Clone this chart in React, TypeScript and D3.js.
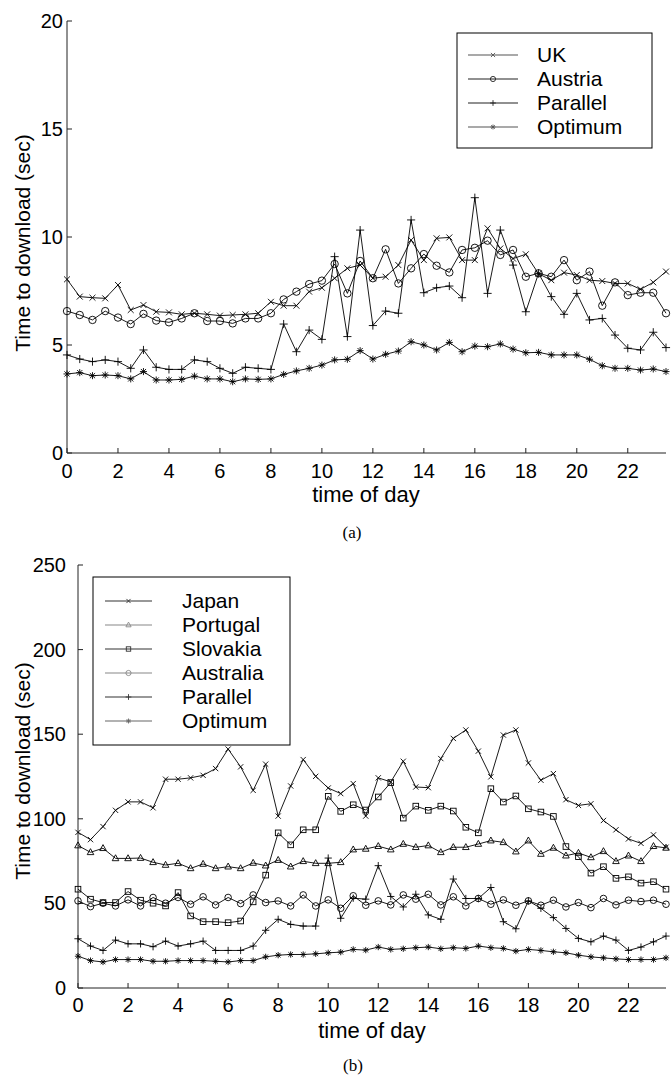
import React from "react";
import * as d3 from "d3";

// ---------- data ----------
const hours = [0,0.5,1,1.5,2,2.5,3,3.5,4,4.5,5,5.5,6,6.5,7,7.5,8,8.5,9,9.5,10,10.5,11,11.5,12,12.5,13,13.5,14,14.5,15,15.5,16,16.5,17,17.5,18,18.5,19,19.5,20,20.5,21,21.5,22,22.5,23,23.5];
const xTicks = [0,2,4,6,8,10,12,14,16,18,20,22];

// panel (a)
const ukA = [8.04,7.24,7.19,7.16,7.78,6.62,6.85,6.54,6.51,6.42,6.47,6.42,6.36,6.39,6.42,6.47,7.0,6.82,6.82,7.47,7.65,8.09,8.55,8.7,8.09,8.16,8.7,9.86,8.93,9.94,9.98,8.93,8.93,10.4,9.47,9.0,9.2,8.3,8.0,8.35,8.24,8.0,7.96,7.85,7.85,7.58,7.9,8.4];
const austriaA = [6.57,6.39,6.16,6.57,6.27,5.97,6.44,6.13,6.05,6.23,6.47,6.11,6.11,6.0,6.23,6.23,6.47,7.11,7.47,7.82,7.98,8.75,7.39,8.89,8.09,9.43,7.85,8.55,9.21,8.67,8.36,9.4,9.5,9.83,9.17,9.4,8.16,8.32,8.16,8.93,8.0,8.4,6.82,7.9,7.31,7.42,7.42,6.47];
const parallelA = [4.54,4.35,4.23,4.31,4.23,3.92,4.77,3.97,3.87,3.87,4.31,4.23,3.92,3.69,3.97,3.92,3.87,5.97,4.69,5.69,5.26,9.09,5.39,10.32,5.9,6.57,6.47,10.79,7.42,7.65,7.73,7.19,11.82,7.39,10.32,8.7,6.54,8.32,7.24,6.42,7.39,6.16,6.23,5.46,4.85,4.77,5.59,4.88];
const optimumA = [3.66,3.72,3.58,3.61,3.58,3.43,3.77,3.38,3.38,3.41,3.56,3.43,3.43,3.3,3.43,3.41,3.43,3.64,3.8,3.92,4.07,4.31,4.34,4.74,4.35,4.57,4.72,5.15,5.0,4.77,5.12,4.69,4.95,4.92,5.05,4.81,4.64,4.66,4.54,4.54,4.54,4.34,4.04,3.92,3.92,3.84,3.89,3.77];
const yTicksA = [0,5,10,15,20];

// panel (b)
const japanB = [92,87.7,95.4,105,110,110,106.5,123.4,123.4,124.2,125.7,129.7,141.2,130.7,116.8,132.3,101.6,119.4,135,125.1,118.2,114.9,120.8,101.6,124.2,121.8,134,118.8,118.4,135.6,147.5,152.5,140,124.8,149.5,152.5,133,122.8,126.7,111.3,107.9,108.9,99,93.5,88.1,85.5,90.5,83.2];
const portugalB = [84.2,80.2,82.6,76.6,76.6,76.8,74.3,72.7,73.7,70.7,73.3,70.7,71.7,70.7,73.9,72.3,75.6,71.7,74.9,73.7,73.7,74.3,81.8,82.2,83.8,81.8,85.1,83.2,84.2,80.2,83.2,83.2,85.1,87.1,86.1,80.6,87.1,79.2,82.8,78.2,79.8,77.2,80.8,74.9,78.2,74.9,83.8,82.8];
const slovakiaB = [58.4,52.5,50.5,50.5,57,51.9,50.1,48.5,56.4,42.6,39.2,39.2,38.6,39.6,50.9,66.7,91.7,84.6,93.5,93.5,113.3,104.4,108.3,105.2,112.9,121.4,100.4,107.5,105,107.5,104.6,95,91.7,117.8,109.9,113.5,105.9,104,101.4,83.6,77.6,67.9,71.7,64.8,65.7,62,62.8,58.4];
const australiaB = [51.5,48.1,50.1,48.5,52.1,48.5,53.5,50.1,53.5,49.5,53.9,49.1,53.5,49.9,55,50.5,51.5,48.5,55,48.5,52.1,47.1,54.5,48.9,51.5,49.1,55,52.5,55.4,49.1,53.9,48.5,52.9,49.5,52.1,48.9,51.5,48.9,51.9,47.9,50.5,47.5,52.9,49.1,51.9,51.1,51.9,49.5];
const parallelB = [29.1,24.8,22.2,28.3,26.1,26.1,24.4,27.7,24.8,26.1,27.7,22.2,22.2,22.2,24.8,34.1,40.6,37.6,36.6,36.6,76.8,41.2,53.1,52.5,72.3,54.1,47.9,55.4,43.2,40.6,64.4,52.9,52.9,59.4,39.2,35,51.5,47.1,41.6,35.2,29.3,27.3,30.7,28.3,22.2,24.2,27.3,30.7];
const optimumB = [18.8,16.2,15.4,16.8,16.8,16.8,15.8,15.8,16.2,16.2,16.2,15.8,15.4,16.2,16.2,18.4,19.4,19.8,19.8,20.2,20.8,21.2,22.8,22.4,24.2,22.8,23.2,23.8,24.2,23.2,23.8,23.4,24.8,23.8,23.4,21.8,22.8,22.2,21.4,20.8,19.4,18.4,17.8,17.2,16.8,16.8,16.8,17.8];
const yTicksB = [0,50,100,150,200,250];

type Marker = "x" | "o" | "+" | "*" | "s" | "^";
type Series = { name: string; values: number[]; marker: Marker; legendColor: string };

const seriesA: Series[] = [
  { name: "UK", values: ukA, marker: "x", legendColor: "#555" },
  { name: "Austria", values: austriaA, marker: "o", legendColor: "#222" },
  { name: "Parallel", values: parallelA, marker: "+", legendColor: "#222" },
  { name: "Optimum", values: optimumA, marker: "*", legendColor: "#555" },
];
const seriesB: Series[] = [
  { name: "Japan", values: japanB, marker: "x", legendColor: "#333" },
  { name: "Portugal", values: portugalB, marker: "^", legendColor: "#888" },
  { name: "Slovakia", values: slovakiaB, marker: "s", legendColor: "#333" },
  { name: "Australia", values: australiaB, marker: "o", legendColor: "#888" },
  { name: "Parallel", values: parallelB, marker: "+", legendColor: "#333" },
  { name: "Optimum", values: optimumB, marker: "*", legendColor: "#666" },
];

const SANS = "'Liberation Sans', Arial, Helvetica, sans-serif";
const SERIF = "'Liberation Serif', 'Times New Roman', serif";

function MarkerGlyph({ m, x, y, s, color = "#000" }: { m: Marker; x: number; y: number; s: number; color?: string }) {
  const sw = 0.9;
  switch (m) {
    case "x":
      return (
        <path d={`M${x - s * 0.8},${y - s * 0.8}L${x + s * 0.8},${y + s * 0.8}M${x - s * 0.8},${y + s * 0.8}L${x + s * 0.8},${y - s * 0.8}`} stroke={color} strokeWidth={sw} fill="none" />
      );
    case "o":
      return <circle cx={x} cy={y} r={s} stroke={color} strokeWidth={sw} fill="none" />;
    case "+":
      return <path d={`M${x - s * 1.1},${y}L${x + s * 1.1},${y}M${x},${y - s * 1.1}L${x},${y + s * 1.1}`} stroke={color} strokeWidth={sw} fill="none" />;
    case "*": {
      const a = s * 0.95, b = s * 0.7;
      return (
        <path d={`M${x - a},${y}L${x + a},${y}M${x},${y - a}L${x},${y + a}M${x - b},${y - b}L${x + b},${y + b}M${x - b},${y + b}L${x + b},${y - b}`} stroke={color} strokeWidth={sw} fill="none" />
      );
    }
    case "s":
      return <rect x={x - s * 0.85} y={y - s * 0.85} width={s * 1.7} height={s * 1.7} stroke={color} strokeWidth={sw} fill="none" />;
    case "^":
      return <path d={`M${x},${y - s * 1.1}L${x + s},${y + s * 0.7}L${x - s},${y + s * 0.7}Z`} stroke={color} strokeWidth={sw} fill="none" />;
  }
  return null;
}

type PanelProps = {
  series: Series[];
  yMax: number;
  yTicks: number[];
  x0: number; x1: number; yTop: number; yBot: number;
  yLabelEnd: number;
  yTitleX: number; yTitleY: number;
  xTitleX: number; xTitleY: number;
  tickLabelY: number;
  caption: string; captionX: number; captionY: number;
  markerSize: number;
  legend: { x: number; y: number; w: number; h: number; row0: number; dy: number; lx0: number; lx1: number; tx: number };
};

function Panel(p: PanelProps) {
  const xs = d3.scaleLinear().domain([0, 23.5]).range([p.x0, p.x1]);
  const ys = d3.scaleLinear().domain([0, p.yMax]).range([p.yBot, p.yTop]);
  const line = d3.line<number>().x((_, i) => xs(hours[i])).y((v) => ys(v));
  const L = p.legend;
  return (
    <g>
      {/* axes */}
      <line x1={p.x0} x2={p.x0} y1={p.yTop} y2={p.yBot} stroke="#222" strokeWidth={1} />
      <line x1={p.x0} x2={p.x1} y1={p.yBot} y2={p.yBot} stroke="#222" strokeWidth={1} />
      {p.yTicks.map((t) => (
        <g key={"y" + t}>
          <line x1={p.x0} x2={p.x0 + 5} y1={ys(t)} y2={ys(t)} stroke="#222" strokeWidth={1} />
          <text x={p.yLabelEnd} y={ys(t) + 7} textAnchor="end" fontFamily={SANS} fontSize={20}>{t}</text>
        </g>
      ))}
      {xTicks.map((t) => (
        <g key={"x" + t}>
          <line x1={xs(t)} x2={xs(t)} y1={p.yBot} y2={p.yBot - 5} stroke="#222" strokeWidth={1} />
          <text x={xs(t)} y={p.tickLabelY} textAnchor="middle" fontFamily={SANS} fontSize={20}>{t}</text>
        </g>
      ))}
      <text transform={`translate(${p.yTitleX},${p.yTitleY}) rotate(-90)`} textAnchor="middle" fontFamily={SANS} fontSize={21}>Time to download (sec)</text>
      <text x={p.xTitleX} y={p.xTitleY} textAnchor="middle" fontFamily={SANS} fontSize={22}>time of day</text>
      <text x={p.captionX} y={p.captionY} textAnchor="middle" fontFamily={SERIF} fontSize={17}>{p.caption}</text>

      {/* series */}
      {p.series.map((s) => (
        <g key={s.name}>
          <path d={line(s.values) || ""} fill="none" stroke="#000" strokeWidth={0.9} />
          {s.values.map((v, i) => (
            <MarkerGlyph key={i} m={s.marker} x={xs(hours[i])} y={ys(v)} s={p.markerSize} />
          ))}
        </g>
      ))}

      {/* legend */}
      <rect x={L.x} y={L.y} width={L.w} height={L.h} fill="#fff" stroke="#000" strokeWidth={1} />
      {p.series.map((s, i) => {
        const yy = L.row0 + i * L.dy;
        return (
          <g key={"lg" + s.name}>
            <line x1={L.lx0} x2={L.lx1} y1={yy} y2={yy} stroke={s.legendColor} strokeWidth={1.2} />
            <MarkerGlyph m={s.marker} x={(L.lx0 + L.lx1) / 2} y={yy} s={2.6} color={s.legendColor} />
            <text x={L.tx} y={yy + 7} fontFamily={SANS} fontSize={21}>{s.name}</text>
          </g>
        );
      })}
    </g>
  );
}

export default function App() {
  return (
    <svg width={671} height={1078} style={{ position: "absolute", left: 0, top: 0, background: "#fff" }}>
      <rect x={0} y={0} width={671} height={1078} fill="#fff" />
      <Panel
        series={seriesA}
        yMax={20}
        yTicks={yTicksA}
        x0={67} x1={666} yTop={21} yBot={453}
        yLabelEnd={63}
        yTitleX={30} yTitleY={243}
        xTitleX={366} xTitleY={502}
        tickLabelY={478}
        caption="(a)" captionX={352} captionY={538}
        markerSize={3.7}
        legend={{ x: 457, y: 33, w: 195, h: 115, row0: 55, dy: 24, lx0: 468, lx1: 518, tx: 537 }}
      />
      <Panel
        series={seriesB}
        yMax={250}
        yTicks={yTicksB}
        x0={78} x1={666} yTop={565} yBot={988}
        yLabelEnd={66}
        yTitleX={30} yTitleY={771}
        xTitleX={372} xTitleY={1038}
        tickLabelY={1012}
        caption="(b)" captionX={353} captionY={1071}
        markerSize={3.3}
        legend={{ x: 93, y: 577, w: 197, h: 168, row0: 601, dy: 24, lx0: 105, lx1: 152, tx: 182 }}
      />
    </svg>
  );
}
